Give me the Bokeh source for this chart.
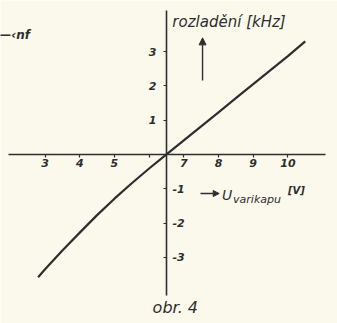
from bokeh.plotting import figure
from bokeh.models import (Range1d, LinearAxis, FixedTicker, Label, Arrow,
                          NormalHead, ColumnDataSource)
from bokeh.embed import file_html
from bokeh.resources import INLINE

# varicap voltage [V] and resulting detuning [kHz]
voltage = [2.8, 3.0, 3.5, 4.0, 4.5, 5.0, 5.5, 6.0, 6.5,
           7.0, 7.5, 8.0, 8.5, 9.0, 9.5, 10.0, 10.5]
detuning = [-3.58, -3.35, -2.80, -2.28, -1.77, -1.29, -0.84, -0.41, 0.0,
            0.41, 0.82, 1.23, 1.64, 2.05, 2.46, 2.87, 3.30]

x_ticks = [3, 4, 5, 6, 7, 8, 9, 10]
x_tick_labels = ["3", "4", "5", "", "7", "8", "9", "10"]
y_ticks_pos = [1, 2, 3]
y_ticks_neg = [-1, -2, -3]
y_tick_labels_neg = ["-1", "-2", "-3"]

# the axes cross at the working point
x_origin = 6.5
y_origin = 0.0

INK = "#2e2e2e"
PAPER = "#fbf9ec"
FONT = "DejaVu Sans"

p = figure(width=337, height=323, output_backend="svg", toolbar_location=None,
           x_range=Range1d(1.716, 11.43), y_range=Range1d(-4.93, 4.49),
           x_axis_location=None, y_axis_location=None, min_border=0,
           background_fill_color=PAPER, border_fill_color=PAPER)
p.outline_line_color = None
p.xgrid.visible = False
p.ygrid.visible = False


def style_axis(ax):
    ax.axis_line_color = INK
    ax.axis_line_width = 1.6
    ax.major_tick_line_color = INK
    ax.major_tick_line_width = 1.2
    ax.minor_tick_line_color = None
    ax.major_tick_in = 0
    ax.major_tick_out = 3
    ax.major_label_text_font = FONT
    ax.major_label_text_font_style = "bold italic"
    ax.major_label_text_font_size = "11px"
    ax.major_label_text_color = INK


xaxis = LinearAxis(fixed_location=y_origin, ticker=FixedTicker(ticks=x_ticks),
                   bounds=(1.95, 11.08),
                   major_label_overrides={t: s for t, s in zip(x_ticks, x_tick_labels)})
style_axis(xaxis)
xaxis.major_label_standoff = 2
p.add_layout(xaxis, "below")

yaxis_left = LinearAxis(fixed_location=x_origin, ticker=FixedTicker(ticks=y_ticks_pos),
                        bounds=(-4.11, 4.2))
style_axis(yaxis_left)
yaxis_left.major_label_standoff = 7
p.add_layout(yaxis_left, "left")

yaxis_right = LinearAxis(fixed_location=x_origin, ticker=FixedTicker(ticks=y_ticks_neg),
                         bounds=(-4.11, 0),
                         major_label_overrides={t: s for t, s in zip(y_ticks_neg, y_tick_labels_neg)})
style_axis(yaxis_right)
yaxis_right.axis_line_color = None
yaxis_right.major_tick_out = 0
yaxis_right.major_tick_in = 3
yaxis_right.major_label_standoff = 6
p.add_layout(yaxis_right, "right")

# characteristic curve
src = ColumnDataSource(data=dict(u=voltage, f=detuning))
p.line("u", "f", source=src, line_width=2.2, line_color=INK, line_join="round")

# axis captions with their arrows
p.add_layout(Arrow(end=NormalHead(size=7, fill_color=INK, line_color=INK),
                   x_start=7.54, y_start=2.16, x_end=7.54, y_end=3.4,
                   line_color=INK, line_width=1.4))
p.add_layout(Arrow(end=NormalHead(size=6, fill_color=INK, line_color=INK),
                   x_start=7.48, y_start=-1.14, x_end=8.02, y_end=-1.14,
                   line_color=INK, line_width=1.4))


def label(x, y, text, size, style="italic"):
    p.add_layout(Label(x=x, y=y, text=text, text_font=FONT, text_font_style=style,
                       text_font_size=size, text_color=INK,
                       text_baseline="middle", text_align="left"))


label(6.67, 3.85, "rozladění [kHz]", "15px")
label(8.1, -1.17, "U", "14px")
label(8.42, -1.30, "varikapu", "11px")
label(10.0, -1.04, "[V]", "10px", "bold italic")
label(6.1, -4.46, "obr. 4", "16px")
label(1.68, 3.47, "—‹nf", "12px", "bold italic")

open("out.html", "w").write(file_html(p, INLINE))
